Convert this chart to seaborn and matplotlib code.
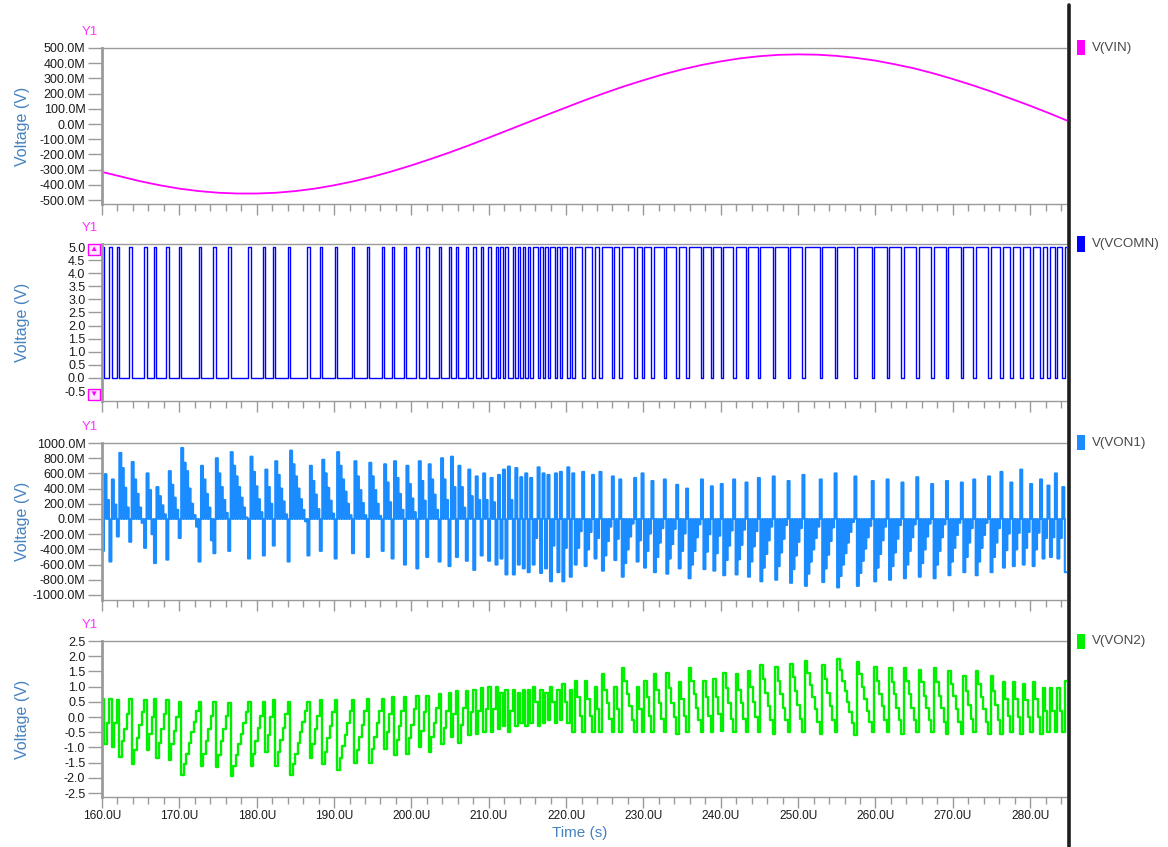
import numpy as np
import matplotlib
matplotlib.use("Agg")
import matplotlib.pyplot as plt
from matplotlib.ticker import FixedLocator, MultipleLocator, FuncFormatter
from matplotlib.patches import Rectangle
from matplotlib.lines import Line2D
import seaborn as sns

# ---------------------------------------------------------------- data
# modulator clock
T_START_US = 160.0
CLOCK_US = 0.32
X_RANGE_US = (160.0, 284.7)

# input sine V(VIN), sampled every 2.5 us (mV)
vin_time_us = [160, 162.5, 165, 167.5, 170, 172.5, 175, 177.5, 180, 182.5, 185, 187.5,
               190, 192.5, 195, 197.5, 200, 202.5, 205, 207.5, 210, 212.5, 215, 217.5,
               220, 222.5, 225, 227.5, 230, 232.5, 235, 237.5, 240, 242.5, 245, 247.5,
               250, 252.5, 255, 257.5, 260, 262.5, 265, 267.5, 270, 272.5, 275, 277.5,
               280, 282.5, 285]
vin_mv = [-315, -346, -377, -403, -425, -441, -452, -457, -457, -452, -441, -425,
          -403, -377, -346, -311, -272, -230, -186, -139, -90, -40, 10, 60,
          109, 158, 204, 248, 288, 326, 359, 388, 412, 432, 446, 455,
          458, 456, 448, 435, 417, 393, 366, 333, 296, 256, 213, 167,
          120, 70, 18]

# comparator decisions V(VCOMN), one character per clock, 30 clocks per row
vcomn_bits = (
    "100100100001000001000100001000"
    "010000000100000100000100000001"
    "000001000100000100000001000010"
    "000010000001000001000001000100"
    "001000010001000010001001000100"
    "100100100101010010101010110101"
    "011010110101110111011011110110"
    "111110110111011110111101110111"
    "110111011101111011110111101111"
    "101111101111101111110111110111"
    "111101111110111110111110111110"
    "111110111110111110111101111101"
    "111011101110111011101101101101"
)
VCOMN_HIGH_V = 5.0

# first stage output V(VON1), one sample per clock (mV), returns to zero each clock
von1_mv = [
    -420, 590, 250, -560, 520, 190, -230, 870, 670, 410, 150, -300, 750, 520, 330,
    150, -50, -380, 600, 380, -200, -580, 420, 300, 180, 60, -535, 630, 450, 280,
    120, -250, 935, 740, 630, 400, 200, 50, -100, -560, 700, 520, 330, 150, -280,
    -450, 800, 600, 420, 250, 80, -420, 880, 700, 560, 420, 280, 150, 20, -520,
    820, 620, 430, 260, 90, -480, 650, 420, 200, -350, 760, 580, 400, 230, 60,
    -560, 900, 720, 560, 400, 260, 120, -30, -480, 700, 500, 320, 130, -420, 780,
    600, 410, 240, 70, -520, 880, 700, 520, 360, 200, 50, -450, 760, 560, 380,
    210, 50, -500, 740, 560, 380, 200, 40, -420, 720, 480, 220, -520, 760, 540,
    330, 120, -600, 700, 460, 270, 90, -650, 760, 500, 240, -500, 720, 520, 320,
    120, -560, 800, 520, 250, -620, 820, 420, -500, 700, 420, 150, -550, 650, 300,
    -670, 560, 250, -480, 600, 250, -550, 540, 220, -600, 580, -520, 650, -730, 690,
    250, -730, 670, -600, 550, -650, 600, -700, 540, -600, -250, 680, -710, 600, -650,
    580, -820, -350, 600, -700, 620, -820, -380, 680, -760, 600, -600, -380, -160, 620,
    -620, -400, -170, 580, -520, -250, 620, -680, -480, -290, -100, 560, -540, -260, 520,
    -760, -580, -400, -230, -60, 540, -560, -280, 600, -640, -420, -190, 500, -700, -500,
    -310, -120, 520, -720, -520, -330, -130, 450, -650, -420, -190, 400, -780, -600, -420,
    -240, -70, 520, -660, -430, -200, 430, -680, -450, -220, 460, -740, -540, -350, -150,
    520, -730, -530, -340, -140, 480, -760, -560, -360, -160, 540, -820, -640, -460, -280,
    -100, 560, -800, -620, -440, -260, -80, 500, -840, -660, -480, -300, -120, 580, -880,
    -720, -560, -400, -250, -100, 520, -830, -650, -470, -290, -110, 600, -900, -750, -600,
    -450, -310, -170, -40, 560, -880, -710, -550, -390, -240, -90, 500, -820, -640, -460,
    -280, -100, 520, -800, -620, -440, -260, -80, 480, -780, -600, -420, -240, -70, 550,
    -760, -580, -400, -230, -60, 460, -780, -600, -420, -240, -70, 500, -740, -560, -380,
    -210, -50, 480, -700, -500, -310, -120, 520, -740, -560, -380, -210, -50, 560, -700,
    -500, -310, -120, 620, -640, -410, -190, 480, -620, -400, -180, 650, -600, -380, -170,
    460, -620, -400, -180, 520, -520, -250, 440, -500, -240, 600, -520, -250, 420, -700,
]

# second stage output V(VON2), one sample per clock (V)
von2_v = [
    0.6, -0.9, -0.2, 0.6, -1.0, -0.2, 0.55, -1.3, -0.8, -0.4, 0.1, 0.6, -1.55, -1.1, -0.7,
    -0.25, 0.15, 0.55, -1.1, -0.55, 0.0, 0.6, -1.35, -0.85, -0.4, 0.1, 0.55, -1.4, -0.9, -0.45,
    0.0, 0.5, -1.9, -1.55, -1.2, -0.85, -0.5, -0.15, 0.2, 0.5, -1.6, -1.2, -0.8, -0.4, 0.05,
    0.5, -1.65, -1.25, -0.8, -0.4, 0.05, 0.45, -1.95, -1.6, -1.25, -0.9, -0.55, -0.2, 0.15, 0.5,
    -1.6, -1.2, -0.8, -0.35, 0.05, 0.5, -1.15, -0.6, 0.0, 0.55, -1.6, -1.15, -0.75, -0.35, 0.1,
    0.5, -1.9, -1.55, -1.2, -0.85, -0.5, -0.15, 0.2, 0.5, -1.35, -0.9, -0.4, 0.05, 0.55, -1.55,
    -1.15, -0.7, -0.3, 0.15, 0.55, -1.75, -1.35, -0.95, -0.6, -0.2, 0.2, 0.55, -1.5, -1.1, -0.65,
    -0.25, 0.2, 0.6, -1.5, -1.05, -0.65, -0.2, 0.2, 0.6, -1.05, -0.5, 0.1, 0.65, -1.25, -0.75,
    -0.3, 0.2, 0.65, -1.2, -0.7, -0.25, 0.25, 0.7, -1.0, -0.45, 0.15, 0.7, -1.15, -0.65, -0.2,
    0.3, 0.75, -0.9, -0.35, 0.2, 0.8, -0.65, 0.1, 0.85, -0.85, -0.25, 0.3, 0.85, -0.6, 0.15,
    0.9, -0.55, 0.2, 0.95, -0.5, 0.25, 1.0, -0.5, 0.25, 1.0, -0.4, 0.8, -0.3, 0.9, -0.5,
    0.2, 0.9, -0.3, 0.8, -0.2, 0.9, -0.3, 0.9, -0.2, 1.0, 0.5, -0.3, 0.9, -0.2, 0.8,
    -0.1, 1.0, 0.5, -0.2, 0.9, -0.1, 1.1, 0.5, -0.2, 0.9, -0.5, 1.2, 0.65, 0.05, -0.5,
    1.2, 0.6, 0.05, -0.5, 1.0, 0.25, -0.5, 1.4, 0.9, 0.45, -0.05, -0.5, 1.0, 0.25, -0.5,
    1.6, 1.2, 0.75, 0.35, -0.1, -0.5, 1.0, 0.25, -0.5, 1.2, 0.65, 0.05, -0.5, 1.4, 0.9,
    0.45, -0.05, -0.5, 1.45, 0.95, 0.45, 0.0, -0.55, 1.15, 0.6, 0.05, -0.5, 1.6, 1.2, 0.75,
    0.3, -0.1, -0.5, 1.2, 0.65, 0.05, -0.5, 1.25, 0.65, 0.1, -0.45, 1.45, 0.95, 0.45, -0.05,
    -0.5, 1.4, 0.9, 0.45, -0.05, -0.5, 1.5, 1.0, 0.5, 0.0, -0.5, 1.7, 1.25, 0.8, 0.35,
    -0.1, -0.55, 1.65, 1.2, 0.75, 0.3, -0.1, -0.5, 1.75, 1.3, 0.85, 0.4, -0.05, -0.5, 1.85,
    1.45, 1.05, 0.65, 0.25, -0.15, -0.55, 1.7, 1.25, 0.8, 0.35, -0.1, -0.5, 1.9, 1.55, 1.2,
    0.85, 0.5, 0.15, -0.2, -0.6, 1.8, 1.4, 1.0, 0.6, 0.2, -0.15, -0.5, 1.65, 1.2, 0.75,
    0.35, -0.1, -0.5, 1.6, 1.15, 0.75, 0.3, -0.1, -0.55, 1.6, 1.2, 0.75, 0.3, -0.1, -0.5,
    1.55, 1.15, 0.7, 0.3, -0.1, -0.5, 1.6, 1.15, 0.7, 0.3, -0.15, -0.55, 1.5, 1.1, 0.7,
    0.25, -0.15, -0.55, 1.35, 0.85, 0.4, -0.05, -0.5, 1.5, 1.1, 0.65, 0.25, -0.15, -0.55, 1.35,
    0.85, 0.4, -0.1, -0.55, 1.15, 0.6, 0.05, -0.5, 1.15, 0.6, 0.0, -0.55, 1.1, 0.55, 0.0,
    -0.5, 1.15, 0.6, 0.0, -0.55, 0.95, 0.2, -0.5, 0.95, 0.2, -0.5, 0.95, 0.2, -0.5, 1.2,
]

# panel titles, colours and y-axis ticks
trace_names = ["V(VIN)", "V(VCOMN)", "V(VON1)", "V(VON2)"]
trace_colors = ["#ff00ff", "#0000ff", "#1a8cff", "#00f000"]
yticks_vin = list(range(-500, 501, 100))
yticks_comn = [-0.5, 0.0, 0.5, 1.0, 1.5, 2.0, 2.5, 3.0, 3.5, 4.0, 4.5, 5.0]
yticks_von1 = list(range(-1000, 1001, 200))
yticks_von2 = [-2.5, -2.0, -1.5, -1.0, -0.5, 0.0, 0.5, 1.0, 1.5, 2.0, 2.5]

# ---------------------------------------------------------------- style
sns.set_style("white")
plt.rcParams["font.family"] = ["Liberation Sans", "DejaVu Sans"]
plt.rcParams["axes.linewidth"] = 0.8

W, H = 1168, 847
fig = plt.figure(figsize=(W / 100, H / 100), dpi=100)

AX_LEFT_PX, AX_WIDTH_PX = 102, 964.5
# (top, bottom) of each panel in pixels, and its y range
panel_px = [(48, 204), (244, 401), (443, 600), (641, 797)]
panel_ylim = [(-526, 500), (-0.88, 5.115), (-1066, 1000), (-2.63, 2.5)]
panel_ticks = [yticks_vin, yticks_comn, yticks_von1, yticks_von2]
panel_fmt = ["{:.1f}M", "{:.1f}", "{:.1f}M", "{:.1f}"]

TICK_COLOR = "#9a9a9a"
LABEL_BLUE = "#4682be"

axes = []
for i, ((top, bot), ylim, ticks, fmt) in enumerate(
        zip(panel_px, panel_ylim, panel_ticks, panel_fmt)):
    ax = fig.add_axes([AX_LEFT_PX / W, 1 - bot / H, AX_WIDTH_PX / W, (bot - top) / H])
    ax.set_xlim(*X_RANGE_US)
    ax.set_ylim(*ylim)
    ax.yaxis.set_major_locator(FixedLocator(ticks))
    ax.yaxis.set_major_formatter(
        FuncFormatter(lambda v, p, f=fmt: f.format(0.0 if abs(v) < 1e-9 else v)))
    ax.xaxis.set_major_locator(MultipleLocator(10))
    ax.xaxis.set_minor_locator(MultipleLocator(2))
    ax.xaxis.set_major_formatter(FuncFormatter(lambda v, p: f"{v:.1f}U"))
    ax.tick_params(axis="y", direction="out", length=10, width=1, color=TICK_COLOR,
                   labelsize=9, labelcolor="#1a1a1a", pad=2, left=True)
    ax.tick_params(axis="x", which="major", direction="out", length=8, width=1,
                   color=TICK_COLOR, labelsize=8.6, labelcolor="#1a1a1a", pad=1,
                   bottom=True, labelbottom=(i == 3))
    ax.tick_params(axis="x", which="minor", direction="out", length=5, width=1,
                   color=TICK_COLOR, bottom=True)
    for side in ("left", "top", "bottom"):
        ax.spines[side].set_color("#9a9a9a")
    ax.spines["left"].set_linewidth(2.0)
    ax.spines["top"].set_linewidth(1.0)
    ax.spines["bottom"].set_linewidth(1.0)
    ax.spines["right"].set_visible(False)
    axes.append(ax)

    # side labels
    fig.text(23 / W, 1 - (top + bot) / 2 / H, "Voltage (V)", rotation=90,
             ha="center", va="center", fontsize=11.5, color=LABEL_BLUE)
    fig.text(90 / W, 1 - (top - 16) / H, "Y1", ha="center", va="center",
             fontsize=9.5, color="#ff33ff")
    # legend swatch and trace name
    fig.add_artist(Rectangle((1077 / W, 1 - (top + 7.5) / H), 7.5 / W, 15 / H,
                             transform=fig.transFigure, facecolor=trace_colors[i],
                             edgecolor="none"))
    fig.text(1092 / W, 1 - top / H, trace_names[i], ha="left", va="center",
             fontsize=9.6, color="#4a4a4a")

ax_vin, ax_comn, ax_von1, ax_von2 = axes

# ---------------------------------------------------------------- traces
n_clk = len(vcomn_bits)
t_clk = T_START_US + CLOCK_US * np.arange(n_clk)
t_steps = np.append(t_clk, t_clk[-1] + CLOCK_US)

# V(VIN)
sns.lineplot(x=np.array(vin_time_us, float), y=np.array(vin_mv, float), ax=ax_vin,
             color=trace_colors[0], linewidth=1.3, estimator=None, sort=False)

# V(VCOMN): held comparator level per clock
comn_v = np.array([VCOMN_HIGH_V if b == "1" else 0.0 for b in vcomn_bits])
sns.lineplot(x=t_steps, y=np.append(comn_v, comn_v[-1]), ax=ax_comn,
             color=trace_colors[1], linewidth=1.0, estimator=None, sort=False,
             drawstyle="steps-post")

# V(VON1): return-to-zero samples
v1 = np.array(von1_mv, float)
t_hold = t_clk + 0.8 * CLOCK_US
x_rtz = np.column_stack([t_clk, t_clk, t_hold, t_hold]).ravel()
y_rtz = np.column_stack([np.zeros(n_clk), v1, v1, np.zeros(n_clk)]).ravel()
sns.lineplot(x=x_rtz, y=y_rtz, ax=ax_von1, color=trace_colors[2], linewidth=1.5,
             estimator=None, sort=False)

# V(VON2): held integrator value per clock
v2 = np.array(von2_v, float)
sns.lineplot(x=t_steps, y=np.append(v2, v2[-1]), ax=ax_von2, color=trace_colors[3],
             linewidth=1.7, estimator=None, sort=False, drawstyle="steps-post")

for ax in axes:
    ax.set_xlabel("")
    ax.set_ylabel("")

# scroll markers on the VCOMN axis
for y_frac, glyph in ((0.965, "\u25B2"), (0.04, "\u25BC")):
    ax_comn.text(-0.0085, y_frac, glyph, transform=ax_comn.transAxes, ha="center",
                 va="center", fontsize=6, color="#ff00ff",
                 bbox=dict(boxstyle="square,pad=0.25", facecolor="#fde8fd",
                           edgecolor="#ff00ff", linewidth=1.0), zorder=5, clip_on=False)

fig.text(580 / W, 1 - 833 / H, "Time (s)", ha="center", va="center",
         fontsize=11, color=LABEL_BLUE)

# divider between plot area and trace list
fig.add_artist(Line2D([1069 / W, 1069 / W], [1 - 5 / H, 0], transform=fig.transFigure,
                      color="#1e1e1e", linewidth=2.6))

fig.savefig("out.png", dpi=100)
